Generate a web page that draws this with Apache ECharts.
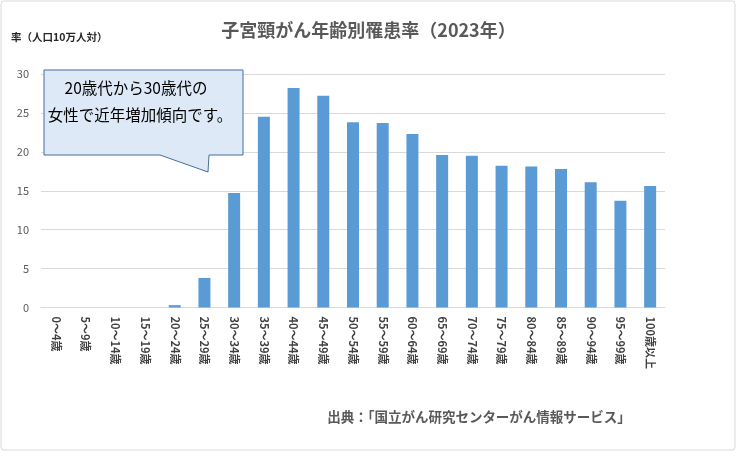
<!DOCTYPE html>
<html>
<head>
<meta charset="utf-8">
<script src="https://cdn.jsdelivr.net/npm/echarts@6/dist/echarts.min.js"></script>
<style>
  html, body { margin: 0; padding: 0; background: #fff; }
  #chart { width: 737px; height: 452px; }
</style>
</head>
<body>
<div id="chart"></div>
<script>
// 年齢階級
var ageGroups = ['0～4歳', '5～9歳', '10～14歳', '15～19歳', '20～24歳', '25～29歳', '30～34歳',
    '35～39歳', '40～44歳', '45～49歳', '50～54歳', '55～59歳', '60～64歳', '65～69歳',
    '70～74歳', '75～79歳', '80～84歳', '85～89歳', '90～94歳', '95～99歳', '100歳以上'];
// 罹患率（人口10万人対）
var rates = [0, 0, 0, 0, 0.3, 3.8, 14.7, 24.5, 28.2, 27.2, 23.8, 23.7, 22.3, 19.6,
    19.5, 18.2, 18.1, 17.8, 16.1, 13.7, 15.6];
var yTicks = [0, 5, 10, 15, 20, 25, 30];
var titleText = '子宮頸がん年齢別罹患率（2023年）';
var noteLines = ['20歳代から30歳代の', '女性で近年増加傾向です。'];
var sourceText = '出典：「国立がん研究センターがん情報サービス」';

var font = '"Noto Sans CJK JP", "Noto Sans", sans-serif';
var chart = echarts.init(document.getElementById('chart'));

var option = {
    backgroundColor: '#fff',
    textStyle: { fontFamily: font },
    title: {
        text: titleText,
        left: 'center',
        top: 16,
        textStyle: { fontSize: 18, fontWeight: 'bold', color: '#595959', fontFamily: font }
    },
    grid: { left: 41, right: 72, top: 74, bottom: 144.5 },
    xAxis: {
        type: 'category',
        data: ageGroups,
        axisLine: { lineStyle: { color: '#d9d9d9' } },
        axisTick: { show: false },
        axisLabel: {
            rotate: -90,
            interval: 0,
            margin: 9,
            fontSize: 11,
            fontWeight: 'bold',
            color: '#404040'
        }
    },
    yAxis: {
        type: 'value',
        min: yTicks[0],
        max: yTicks[yTicks.length - 1],
        interval: 5,
        name: '率（人口10万人対）',
        nameLocation: 'end',
        nameGap: 32,
        nameTextStyle: { fontSize: 10.5, fontWeight: 'bold', color: '#262626', align: 'left', padding: [0, 0, 0, -30] },
        axisLine: { show: false },
        axisTick: { show: false },
        axisLabel: { fontSize: 11, color: '#595959', margin: 12 },
        splitLine: { lineStyle: { color: '#d9d9d9' } }
    },
    series: [{
        type: 'bar',
        data: rates,
        barWidth: 12,
        itemStyle: { color: '#5b9bd5' }
    }],
    graphic: [
        {
            type: 'rect',
            shape: { x: 1, y: 1, width: 734, height: 449, r: 3 },
            style: { fill: 'none', stroke: '#d9d9d9', lineWidth: 1 },
            silent: true
        },
        {
            // 吹き出し
            type: 'polygon',
            shape: { points: [[44, 70], [243, 70], [243, 155], [209, 155], [208, 172], [160, 155], [44, 155]] },
            style: { fill: '#dde9f6', stroke: '#41719c', lineWidth: 1 },
            z: 10
        },
        {
            type: 'text',
            x: 136, y: 88,
            style: { text: noteLines[0], fontSize: 15.5, fill: '#000', align: 'center', verticalAlign: 'middle', fontFamily: font },
            z: 11
        },
        {
            type: 'text',
            x: 140, y: 115,
            style: { text: noteLines[1], fontSize: 15.5, fill: '#000', align: 'center', verticalAlign: 'middle', fontFamily: font },
            z: 11
        },
        {
            type: 'text',
            x: 479, y: 417,
            style: { text: sourceText, fontSize: 13.5, fontWeight: 'bold', fill: '#595959', align: 'center', verticalAlign: 'middle', fontFamily: font }
        }
    ]
};

chart.setOption(option);
</script>
</body>
</html>
